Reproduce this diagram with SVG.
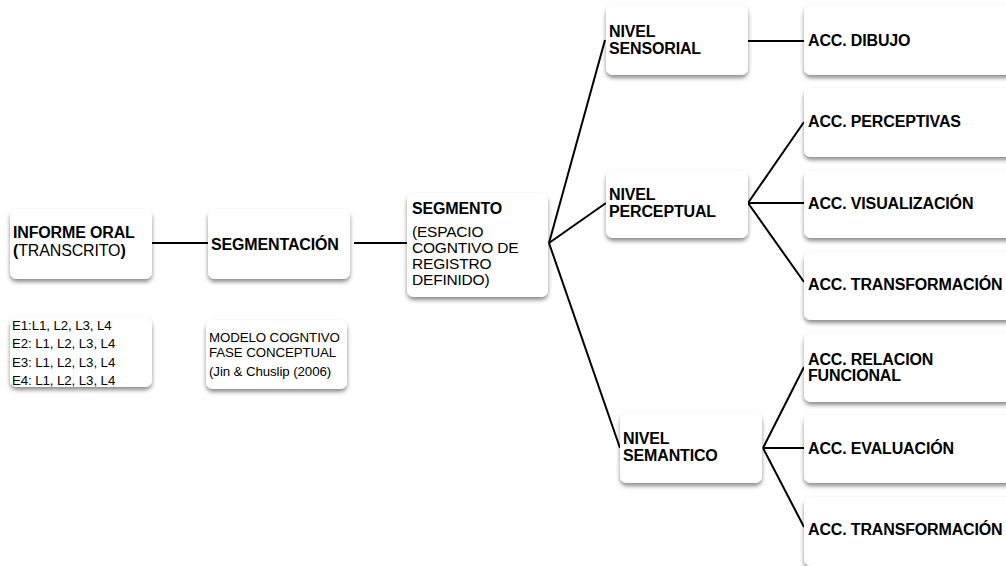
<svg xmlns="http://www.w3.org/2000/svg" width="1006" height="566" viewBox="0 0 1006 566">
<defs>
<filter id="sh" x="-10%" y="-10%" width="120%" height="130%">
<feDropShadow dx="0" dy="3" stdDeviation="2" flood-color="#000" flood-opacity="0.45"/>
</filter>
<style>
.box{fill:#fff;filter:url(#sh);}
.t{font-family:"Liberation Sans",Arial,sans-serif;fill:#000;}
.b{font-weight:bold;font-size:16px;letter-spacing:-0.15px;}
.n{font-size:15.5px;letter-spacing:-0.2px;}
.s{font-size:13.3px;letter-spacing:-0.1px;}
.c{stroke:#000;stroke-width:2;fill:none;}
</style>
</defs>
<rect width="1006" height="566" fill="#fff"/>
<g id="connectors">
<line class="c" x1="152" y1="243" x2="208" y2="243"/>
<line class="c" x1="354" y1="243" x2="407" y2="243"/>
<line class="c" x1="549" y1="243" x2="605" y2="40"/>
<line class="c" x1="549" y1="243" x2="606" y2="203"/>
<line class="c" x1="549" y1="243" x2="620" y2="448"/>
<line class="c" x1="748" y1="41" x2="804" y2="41"/>
<line class="c" x1="748" y1="203" x2="804" y2="122"/>
<line class="c" x1="748" y1="203" x2="804" y2="203"/>
<line class="c" x1="748" y1="203" x2="804" y2="282"/>
<line class="c" x1="763" y1="448" x2="804" y2="367"/>
<line class="c" x1="763" y1="448" x2="804" y2="448"/>
<line class="c" x1="763" y1="448" x2="804" y2="527"/>
</g>
<g id="informe">
<rect class="box" x="10" y="209" width="142" height="70" rx="7"/>
<text class="t b" x="13" y="238">INFORME ORAL</text>
<text class="t" x="13" y="256" style="font-size:16px;letter-spacing:-0.15px"><tspan font-weight="bold">(</tspan>TRANSCRITO<tspan font-weight="bold">)</tspan></text>
</g>
<g id="segmentacion">
<rect class="box" x="208" y="209" width="142" height="70" rx="7"/>
<text class="t b" x="211" y="250">SEGMENTACIÓN</text>
</g>
<g id="estudiantes">
<rect class="box" x="10" y="317" width="142" height="70" rx="7"/>
<text class="t s" x="12" y="330">E1:L1, L2, L3, L4</text>
<text class="t s" x="12" y="348">E2: L1, L2, L3, L4</text>
<text class="t s" x="12" y="367">E3: L1, L2, L3, L4</text>
<text class="t s" x="12" y="385">E4: L1, L2, L3, L4</text>
</g>
<g id="modelo">
<rect class="box" x="206" y="320" width="141" height="69" rx="7"/>
<text class="t s" x="209" y="342">MODELO COGNTIVO</text>
<text class="t s" x="209" y="357">FASE CONCEPTUAL</text>
<text class="t s" x="209" y="376">(Jin &amp; Chuslip (2006)</text>
</g>
<g id="segmento">
<rect class="box" x="407" y="193" width="141" height="104" rx="7"/>
<text class="t b" x="412" y="214">SEGMENTO</text>
<text class="t n" x="412" y="237">(ESPACIO</text>
<text class="t n" x="412" y="253">COGNTIVO DE</text>
<text class="t n" x="412" y="269">REGISTRO</text>
<text class="t n" x="412" y="285">DEFINIDO)</text>
</g>
<g id="nivel-sensorial">
<rect class="box" x="606" y="5" width="142" height="70" rx="7"/>
<text class="t b" x="609" y="37">NIVEL</text>
<text class="t b" x="609" y="54">SENSORIAL</text>
</g>
<g id="nivel-perceptual">
<rect class="box" x="606" y="170" width="142" height="68" rx="7"/>
<text class="t b" x="609" y="200">NIVEL</text>
<text class="t b" x="609" y="217">PERCEPTUAL</text>
</g>
<g id="nivel-semantico">
<rect class="box" x="620" y="413" width="142" height="70" rx="7"/>
<text class="t b" x="623" y="444">NIVEL</text>
<text class="t b" x="623" y="461">SEMANTICO</text>
</g>
<g id="acc-dibujo">
<rect class="box" x="804" y="5" width="220" height="70" rx="7"/>
<text class="t b" x="808" y="46">ACC. DIBUJO</text>
</g>
<g id="acc-perceptivas">
<rect class="box" x="804" y="88" width="220" height="69" rx="7"/>
<text class="t b" x="808" y="127">ACC. PERCEPTIVAS</text>
</g>
<g id="acc-visualizacion">
<rect class="box" x="804" y="170" width="220" height="68" rx="7"/>
<text class="t b" x="808" y="209">ACC. VISUALIZACIÓN</text>
</g>
<g id="acc-transformacion-1">
<rect class="box" x="804" y="252" width="220" height="68" rx="7"/>
<text class="t b" x="808" y="290">ACC. TRANSFORMACIÓN</text>
</g>
<g id="acc-relacion">
<rect class="box" x="804" y="333" width="220" height="69" rx="7"/>
<text class="t b" x="808" y="365">ACC. RELACION</text>
<text class="t b" x="808" y="381">FUNCIONAL</text>
</g>
<g id="acc-evaluacion">
<rect class="box" x="804" y="415" width="220" height="68" rx="7"/>
<text class="t b" x="808" y="454">ACC. EVALUACIÓN</text>
</g>
<g id="acc-transformacion-2">
<rect class="box" x="804" y="497" width="220" height="69" rx="7"/>
<text class="t b" x="808" y="535">ACC. TRANSFORMACIÓN</text>
</g>
</svg>
